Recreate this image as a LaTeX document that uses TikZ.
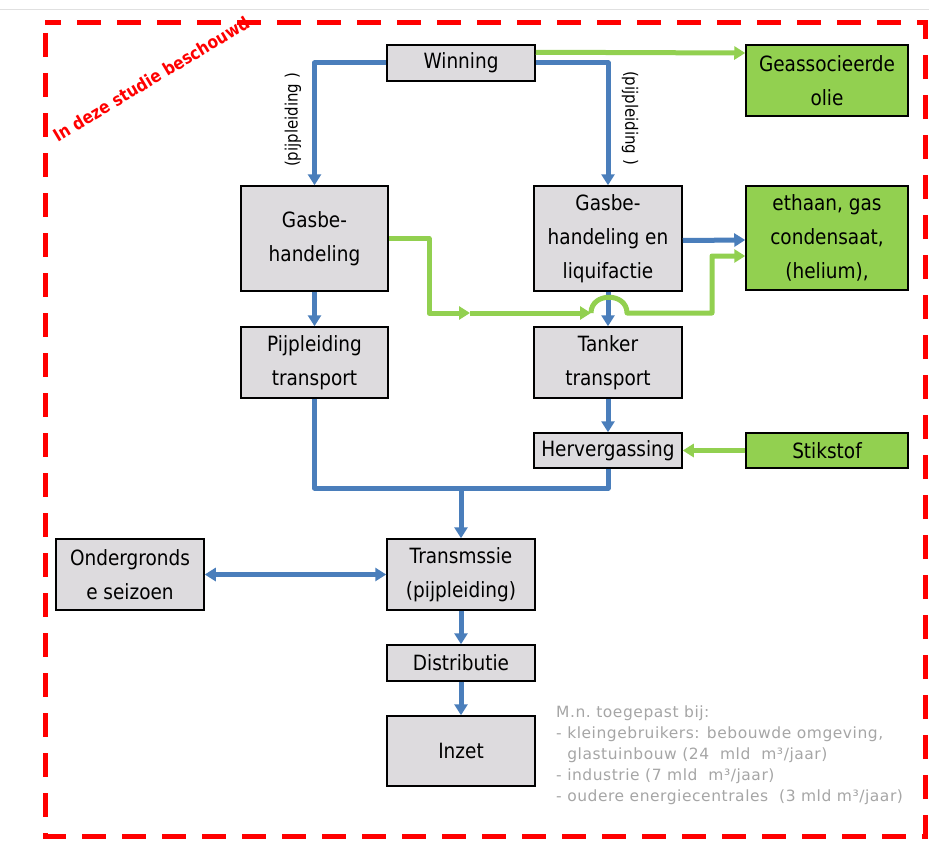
\documentclass[tikz,border=0pt]{standalone}
\usepackage{fontspec}
\setmainfont{DejaVu Sans}[FakeStretch=0.88]
\newfontfamily\grayfont{DejaVu Sans}[LetterSpace=3.5]
\usetikzlibrary{arrows.meta,calc}
\definecolor{flowblue}{HTML}{4A7EBB}
\definecolor{flowgreen}{HTML}{92D050}
\definecolor{boxgray}{HTML}{DDDBDE}
\definecolor{notegray}{HTML}{A6A6A6}
\definecolor{borderred}{HTML}{FF0000}
\tikzset{
  box/.style={draw=black, line width=1.5pt, fill=boxgray, align=center, inner sep=0pt,
    font=\fontsize{21}{34}\selectfont},
  gbox/.style={box, fill=flowgreen},
  bline/.style={draw=flowblue, line width=5pt, line join=round},
  gline/.style={draw=flowgreen, line width=5pt, line join=round},
  tip/.style={-{Triangle[length=11pt,width=13pt]}},
  lbl/.style={font=\fontsize{17}{20}\selectfont, inner sep=0pt},
}
\begin{document}
\begin{tikzpicture}[x=1pt,y=-1pt]
\useasboundingbox (0,0) rectangle (929,843);
\fill[white] (0,0) rectangle (929,843);
\draw[black!12, line width=1pt] (0,10) -- (929,10);

% red frame
\draw[borderred, line width=5pt, dash pattern=on 24pt off 16pt, dash phase=-10pt] (45,23) rectangle (925,836);
\node[text=borderred, rotate=31, font=\bfseries\fontsize{17.5}{20}\selectfont, inner sep=0pt] (study) at (151,79) {In deze studie beschouwd};

% nodes
\node[box, minimum width=148pt, minimum height=36pt] (win) at (461,63) {Winning};
\node[box, minimum width=147pt, minimum height=105pt] (gb) at (314.5,238.5) {Gasbe-\\handeling};
\node[box, minimum width=148pt, minimum height=105pt] (gbl) at (608,238.5) {Gasbe-\\handeling en\\liquifactie};
\node[box, minimum width=147pt, minimum height=71pt] (pt) at (314.5,362.5) {Pijpleiding\\transport};
\node[box, minimum width=148pt, minimum height=71pt] (tt) at (608,362.5) {Tanker\\transport};
\node[box, minimum width=148pt, minimum height=35pt] (hv) at (608,450.5) {Hervergassing};
\node[box, minimum width=148pt, minimum height=71pt] (tr) at (461,574.5) {Transmssie\\(pijpleiding)};
\node[box, minimum width=148pt, minimum height=71pt] (og) at (130,574.5) {Ondergronds\\e seizoen};
\node[box, minimum width=148pt, minimum height=36pt] (dis) at (461,663) {Distributie};
\node[box, minimum width=148pt, minimum height=70pt] (inz) at (461,751) {Inzet};
\node[gbox, minimum width=162pt, minimum height=71pt] (geo) at (827,80.5) {Geassocieerde\\olie};
\node[gbox, minimum width=162pt, minimum height=104pt] (eth) at (827,238) {ethaan, gas\\condensaat,\\(helium),};
\node[gbox, minimum width=162pt, minimum height=35pt] (sti) at (827,450.5) {Stikstof};

% rotated labels
\node[lbl, rotate=90] (lab1) at (293,120) {(pijpleiding )};
\node[lbl, rotate=-90] (lab2) at (630,118) {(pijpleiding )};

% note
\node[anchor=north west, align=left, inner sep=0pt, text=notegray,
  font=\grayfont\fontsize{15.5}{21}\selectfont] (note) at (556,706)
 {M.n.\ toegepast bij:\\
  - kleingebruikers: bebouwde omgeving,\\
  \phantom{- }glastuinbouw (24~ mld~ m³/jaar)\\
  - industrie (7 mld~ m³/jaar)\\
  - oudere energiecentrales~ (3 mld m³/jaar)};

% blue connectors
\draw[bline, tip] (win.west) -| (gb.north);
\draw[bline, tip] (win.east) -| (gbl.north);
\draw[bline, tip] (gb.south) -- (pt.north);
\draw[bline, tip] (gbl.south) -- (tt.north);
\draw[bline, tip] (tt.south) -- (hv.north);
\draw[bline, tip] ($(gbl.east)+(0,2)$) -- ($(eth.west)+(0,2)$);
\coordinate (mrg) at (461,488);
\draw[bline] (pt.south) |- (mrg) -| (hv.south);
\draw[bline, tip] (mrg) -- (tr.north);
\draw[bline, {Triangle[length=11pt,width=13pt]}-{Triangle[length=11pt,width=13pt]}] (og.east) -- (tr.west);
\draw[bline, tip] (tr.south) -- (dis.north);
\draw[bline, tip] (dis.south) -- (inz.north);

% green connectors
\draw[gline, tip] ($(win.north east)+(0,8)$) -- ($(geo.west)+(0,-27.5)$);
\draw[gline, tip] (sti.west) -- (hv.east);
\coordinate (g1) at (429,313);
\coordinate (g2) at (470,313);
\coordinate (g3) at (591,313);
\coordinate (g4) at (627,313);
\coordinate (g5) at (712,313);
\draw[gline, tip] (gb.east) -| (g1) -- (g2);
\draw[gline, tip] (g2) -- (g3);
\draw[gline, tip] (g3) .. controls (591,292) and (627,292) .. (g4) -- (g5) |- ($(eth.west)+(0,18)$);
\end{tikzpicture}
\end{document}
